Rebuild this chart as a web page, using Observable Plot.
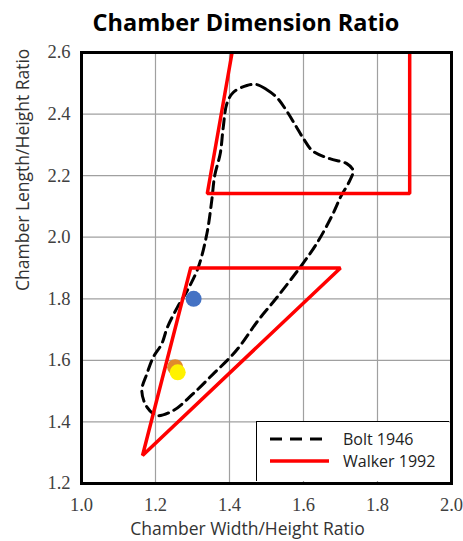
<!DOCTYPE html>
<html><head><meta charset="utf-8">
<script src="https://cdn.jsdelivr.net/npm/d3@7"></script>
<script src="https://cdn.jsdelivr.net/npm/@observablehq/plot@0.6"></script>
<style>
body{margin:0;background:#fff;}
#wrap{position:relative;width:463px;height:541px;overflow:hidden;background:#fff;font-family:"Open Sans",sans-serif;}
#title{height:44px;line-height:44px;text-align:center;font-weight:bold;font-size:23.5px;color:#000;padding-left:29px;box-sizing:border-box;}
#legend{position:absolute;left:256px;top:421px;width:193px;height:60px;background:#fff;border-left:1.5px solid #000;border-top:1.5px solid #000;box-sizing:border-box;}
</style>
</head><body>
<div id="wrap">
  <div id="title">Chamber Dimension Ratio</div>
  <div id="chart"></div>
  <div id="legend"></div>
</div>
<script>
// Tick values
const xTicks = [1.0, 1.2, 1.4, 1.6, 1.8, 2.0];
const yTicks = [1.2, 1.4, 1.6, 1.8, 2.0, 2.2, 2.4, 2.6];

// Bolt 1946 envelope (closed dashed loop)
const boltX = [1.473, 1.500, 1.527, 1.554, 1.580, 1.600, 1.625, 1.671, 1.717, 1.734, 1.725, 1.700, 1.680, 1.636, 1.590, 1.528, 1.477, 1.429, 1.402, 1.357, 1.302, 1.248, 1.204, 1.177, 1.163, 1.177, 1.194, 1.217, 1.232, 1.259, 1.286, 1.315, 1.339, 1.352, 1.360, 1.375, 1.383, 1.393, 1.410, 1.447];
const boltY = [2.496, 2.480, 2.455, 2.411, 2.360, 2.320, 2.280, 2.255, 2.239, 2.217, 2.184, 2.130, 2.077, 1.980, 1.901, 1.804, 1.729, 1.648, 1.610, 1.557, 1.492, 1.437, 1.421, 1.448, 1.502, 1.557, 1.610, 1.654, 1.707, 1.772, 1.827, 1.900, 2.012, 2.119, 2.200, 2.272, 2.356, 2.434, 2.470, 2.493];

// Walker 1992 regions
const walkerUpperX = [1.407, 1.340, 1.887, 1.887];
const walkerUpperY = [2.600, 2.142, 2.142, 2.600];
const walkerLowerX = [1.295, 1.700, 1.165, 1.295];
const walkerLowerY = [1.900, 1.900, 1.291, 1.900];

// Data points
const pointX = [1.253, 1.260, 1.303];
const pointY = [1.578, 1.561, 1.800];
const pointColor = ["#E08A2C", "#FFF200", "#4472C4"];

const bolt = boltX.map((x, i) => ({x, y: boltY[i]}));
const upper = walkerUpperX.map((x, i) => ({x, y: walkerUpperY[i]}));
const lower = walkerLowerX.map((x, i) => ({x, y: walkerLowerY[i]}));
const pts = pointX.map((x, i) => ({x, y: pointY[i], c: pointColor[i]}));

const fmt = d3.format(".1f");
const tickStyle = {tickSize: 0, fontFamily: "Liberation Serif", fontSize: 18.5, fill: "#404040", tickFormat: fmt, label: null};

const chart = Plot.plot({
  width: 463, height: 497,
  marginLeft: 81, marginRight: 12, marginTop: 8, marginBottom: 58,
  x: {domain: [1.0, 2.0]},
  y: {domain: [1.2, 2.6]},
  style: {fontFamily: "Open Sans", background: "white", overflow: "visible"},
  marks: [
    Plot.gridX(xTicks.slice(1, -1), {stroke: "#a0a0a0", strokeOpacity: 1, strokeWidth: 1.2}),
    Plot.gridY(yTicks.slice(1, -1), {stroke: "#a0a0a0", strokeOpacity: 1, strokeWidth: 1.2}),
    Plot.axisX(xTicks, {...tickStyle, tickPadding: 14}),
    Plot.axisY(yTicks, {...tickStyle, tickPadding: 11}),
    Plot.line(bolt, {x: "x", y: "y", curve: "catmull-rom-closed", stroke: "#000", strokeWidth: 3, strokeDasharray: "10,6"}),
    Plot.line(upper, {x: "x", y: "y", stroke: "#ff0000", strokeWidth: 3.5, strokeLinejoin: "miter", clip: true}),
    Plot.line(lower, {x: "x", y: "y", stroke: "#ff0000", strokeWidth: 3.5, strokeLinejoin: "miter"}),
    Plot.dot(pts, {x: "x", y: "y", fill: "c", r: 8}),
    Plot.frame({stroke: "#000", strokeWidth: 3}),
    Plot.text(["Chamber Width/Height Ratio"], {frameAnchor: "bottom", lineAnchor: "middle", dx: -19, dy: 46, fontSize: 17.5, fill: "#333"}),
    Plot.text(["Chamber Length/Height Ratio"], {frameAnchor: "left", lineAnchor: "middle", rotate: -90, dx: -58, dy: 23, fontSize: 17.5, fill: "#333"})
  ]
});
document.getElementById("chart").appendChild(chart);

// Legend (overlay box at lower right of the frame)
const legendItems = [
  {label: "Bolt 1946", stroke: "#000", dash: "12,8", width: 3},
  {label: "Walker 1992", stroke: "#ff0000", dash: null, width: 3.5}
];
const lg = d3.select("#legend").append("svg").attr("width", 193).attr("height", 60);
legendItems.forEach((d, i) => {
  const cy = 17 + i * 22;
  const l = lg.append("line").attr("x1", 13).attr("x2", 72).attr("y1", cy).attr("y2", cy)
    .attr("stroke", d.stroke).attr("stroke-width", d.width);
  if (d.dash) l.attr("stroke-dasharray", d.dash);
  lg.append("text").attr("x", 86).attr("y", cy).attr("dy", "0.35em")
    .attr("font-family", "Open Sans").attr("font-size", 16).attr("fill", "#222").text(d.label);
});
</script>
</body></html>
